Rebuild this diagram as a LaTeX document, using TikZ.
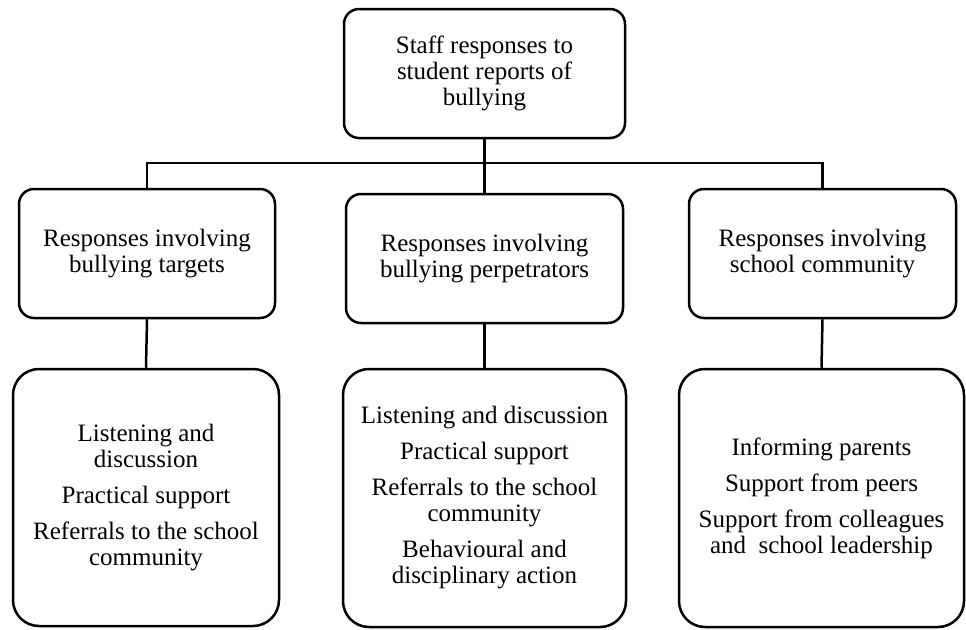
\documentclass[tikz,border=0pt]{standalone}
\usepackage{fontspec}
\setmainfont{Liberation Serif}
\begin{document}
\begin{tikzpicture}[x=1pt,y=1pt,
  box/.style={draw, line width=2.5pt, rounded corners=15pt, align=center,
    inner sep=0pt, font=\fontsize{25}{26}\selectfont},
  bigbox/.style={box, rounded corners=26pt},
  link/.style={line width=2.5pt}]
\useasboundingbox (0,0) rectangle (966,-629);
\fill[white] (0,0) rectangle (966,-629);

% root
\node[box, minimum width=281pt, minimum height=129pt] (top) at (484.5,-73.5)
  {Staff responses to\\student reports of\\bullying};

% second level
\node[box, minimum width=256pt, minimum height=129pt] (mA) at (147,-253.5)
  {Responses involving\\bullying targets};
\node[box, minimum width=277pt, minimum height=129pt] (mB) at (484.5,-258.5)
  {Responses involving\\bullying perpetrators};
\node[box, minimum width=267pt, minimum height=129pt] (mC) at (822.5,-253.5)
  {Responses involving\\school community};

% third level
\node[bigbox, minimum width=266pt, minimum height=257pt] (bA) at (146,-497.5)
  {Listening and\\discussion\\[10pt]Practical support\\[10pt]Referrals to the school\\community};
\node[bigbox, minimum width=283pt, minimum height=258pt] (bB) at (484.5,-498)
  {Listening and discussion\\[10pt]Practical support\\[10pt]Referrals to the school\\community\\[10pt]Behavioural and\\disciplinary action};
\node[bigbox, minimum width=285pt, minimum height=258pt] (bC) at (821.5,-498)
  {Informing parents\\[10pt]Support from peers\\[10pt]Support from colleagues\\and\ \ school leadership};

% connectors
\coordinate (bus) at (0,-163);
\draw[link] (top.south) -- (mB.north);
\draw[link] (mA.north) -- (mA.north |- bus) -- (mC.north |- bus) -- (mC.north);
\draw[link] (mA.south) -- (bA.north);
\draw[link] (mB.south) -- (bB.north);
\draw[link] (mC.south) -- (bC.north);
\end{tikzpicture}
\end{document}
